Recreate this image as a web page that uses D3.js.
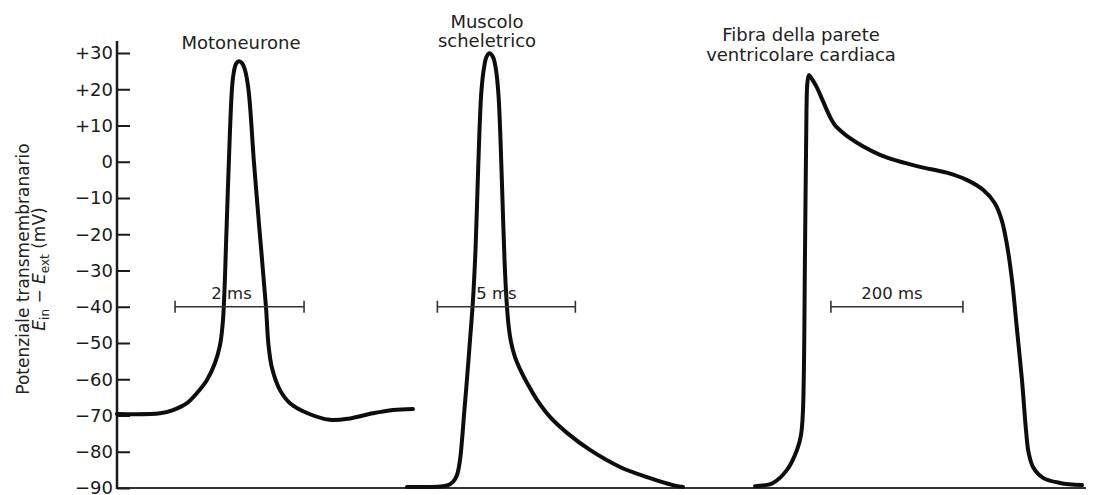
<!DOCTYPE html>
<html>
<head>
<meta charset="utf-8">
<script src="https://cdn.jsdelivr.net/npm/d3@7"></script>
<style>
  html, body { margin: 0; padding: 0; background: #fff; }
  svg { display: block; font-family: "DejaVu Sans", sans-serif; }
</style>
</head>
<body>
<svg id="chart" width="1093" height="495"></svg>
<script>
// Transmembrane potential axis (mV)
const yTicks = [30, 20, 10, 0, -10, -20, -30, -40, -50, -60, -70, -80, -90];
const yTickLabels = ["+30", "+20", "+10", "0", "\u221210", "\u221220", "\u221230", "\u221240",
                     "\u221250", "\u221260", "\u221270", "\u221280", "\u221290"];

// Motoneurone action potential: time (ms) and potential (mV)
const motoTime = [0, 0.667, 0.868, 1.085, 1.240, 1.395, 1.519, 1.597, 1.643, 1.698, 1.752, 1.798,
                  1.845, 1.891, 1.938, 1.984, 2.039, 2.124, 2.209, 2.310, 2.349, 2.403, 2.527,
                  2.682, 2.946, 3.302, 3.612, 3.969, 4.279, 4.589];
const motoVolt = [-69.6, -69.4, -68.5, -66.6, -63.8, -60.2, -55.5, -50.6, -43.7, -18.8, 8.8, 23.1,
                  27.0, 27.7, 27.2, 25.3, 19.8, -0.3, -18.8, -40.1, -50.6, -56.9, -63.0,
                  -66.6, -69.3, -71.2, -70.8, -69.4, -68.5, -68.2];

// Skeletal muscle action potential
const muscleTime = [0, 1.449, 1.667, 1.812, 1.920, 1.993, 2.065, 2.156, 2.283, 2.391, 2.482, 2.554,
                    2.627, 2.699, 2.790, 2.880, 2.989, 3.116, 3.225, 3.315, 3.388, 3.460, 3.533,
                    3.605, 3.678, 3.768, 3.913, 4.094, 4.348, 4.710, 5.181, 5.797, 6.630, 7.717,
                    8.696, 9.638, 10.0];
const muscleVolt = [-89.7, -89.3, -88.3, -86.4, -82.3, -76.8, -69.9, -61.6, -49.2, -38.1, -24.3, -7.8,
                    8.8, 19.8, 25.9, 28.9, 29.9, 28.9, 25.3, 18.4, 6.0, -10.6, -27.1,
                    -38.1, -45.0, -49.7, -53.9, -57.2, -61.0, -65.7, -70.4, -74.8, -79.5, -84.2,
                    -87.0, -89.2, -89.7];

// Ventricular cardiac fibre action potential
const cardiacTime = [0, 7.6, 27.3, 48.5, 63.6, 69.7, 72.7, 75.8, 78.0, 79.5, 81.8, 86.4, 93.5, 103.5,
                     113.6, 121.2, 131.4, 143.9, 164.1, 189.4, 214.7, 250, 290.5, 320.8, 345.9,
                     363.6, 373.8, 381.4, 389.4, 397, 404.5, 410.6, 414.4, 421.2, 436.4, 462.1, 495.5];
const cardiacVolt = [-89.5, -89.4, -88.6, -85, -79.5, -75.4, -68.5, -24.3, 14.3, 22.0, 23.9, 22.8, 20.6, 16.5,
                     12.4, 10.1, 8.3, 6.5, 4.2, 1.9, 0.3, -1.4, -3.0, -5.0, -7.8,
                     -11.5, -16.1, -22.5, -32.6, -46.4, -60.2, -74, -80.1, -84.2, -87.2, -88.6, -89.2];

// Panel titles (one entry per trace, one string per line)
const panelTitles = [["Motoneurone"], ["Muscolo", "scheletrico"], ["Fibra della parete", "ventricolare cardiaca"]];

// Time calibration bars (ms) and their labels
const barStart = [0.9, 1.1, 115];
const barEnd = [2.9, 6.1, 315];
const barLabels = ["2 ms", "5 ms", "200 ms"];
const barLevel = -40;

const svg = d3.select("#chart");
const ink = "#1a1a1a";

const y = d3.scaleLinear().domain([30, -90]).range([53, 488]);
const axisX = 117;

// Each trace has its own time base
const panels = [
  { time: motoTime,    volt: motoVolt,    x: d3.scaleLinear().domain([0, 4.6]).range([117, 413.7]),
    titleX: 241, titleY: 49, lineGap: 18.5, labelShift: -8 },
  { time: muscleTime,  volt: muscleVolt,  x: d3.scaleLinear().domain([0, 10]).range([407, 683]),
    titleX: 487, titleY: 28, lineGap: 18.5, labelShift: -10 },
  { time: cardiacTime, volt: cardiacVolt, x: d3.scaleLinear().domain([0, 500]).range([755, 1085]),
    titleX: 801, titleY: 41, lineGap: 20, labelShift: -5 }
];

// Baseline along the bottom
svg.append("line")
  .attr("x1", axisX).attr("x2", 1086)
  .attr("y1", y(-90)).attr("y2", y(-90))
  .attr("stroke", "#333").attr("stroke-width", 2);

// Vertical potential axis, ticks pointing into the plot
const yAxis = d3.axisLeft(y)
  .tickValues(yTicks)
  .tickFormat((d, i) => yTickLabels[i])
  .tickSizeInner(-13)
  .tickSizeOuter(0)
  .tickPadding(4);

const gy = svg.append("g")
  .attr("transform", `translate(${axisX},0)`)
  .call(yAxis);
gy.select(".domain").remove();
gy.append("line")
  .attr("x1", 0).attr("x2", 0)
  .attr("y1", 41).attr("y2", y(-90) + 1)
  .attr("stroke", ink).attr("stroke-width", 2.5);
gy.selectAll(".tick line").attr("stroke", ink).attr("stroke-width", 2);
gy.selectAll(".tick text")
  .attr("fill", ink)
  .style("font-family", "'DejaVu Sans', sans-serif")
  .style("font-size", "18px");

// Axis title
const yTitle = svg.append("g")
  .attr("transform", `translate(0,269) rotate(-90)`)
  .attr("text-anchor", "middle")
  .attr("fill", "#222")
  .style("font-size", "17px");
yTitle.append("text").attr("x", 0).attr("y", 29).text("Potenziale transmembranario");
const eLine = yTitle.append("text").attr("x", 0).attr("y", 45);
eLine.append("tspan").style("font-style", "italic").text("E");
eLine.append("tspan").attr("dy", 4).style("font-size", "12px").text("in");
eLine.append("tspan").attr("dy", -4).text(" \u2212 ");
eLine.append("tspan").style("font-style", "italic").text("E");
eLine.append("tspan").attr("dy", 4).style("font-size", "12px").text("ext");
eLine.append("tspan").attr("dy", -4).text(" (mV)");

// Centripetal Catmull-Rom keeps the traces smooth through steep rises
const line = d3.line().curve(d3.curveCatmullRom.alpha(0.5));

panels.forEach((p, k) => {
  const pts = p.time.map((t, i) => [p.x(t), y(p.volt[i])]);

  svg.append("path")
    .attr("d", line(pts))
    .attr("fill", "none")
    .attr("stroke", "#0d0d0d")
    .attr("stroke-width", 4)
    .attr("stroke-linejoin", "round")
    .attr("stroke-linecap", "round");

  // Time calibration bar
  const bx0 = p.x(barStart[k]), bx1 = p.x(barEnd[k]), by = y(barLevel);
  const bar = svg.append("g").attr("stroke", "#333").attr("stroke-width", 1.6);
  bar.append("line").attr("x1", bx0).attr("x2", bx1).attr("y1", by).attr("y2", by);
  bar.append("line").attr("x1", bx0).attr("x2", bx0).attr("y1", by - 6).attr("y2", by + 6);
  bar.append("line").attr("x1", bx1).attr("x2", bx1).attr("y1", by - 6).attr("y2", by + 6);
  svg.append("text")
    .attr("x", (bx0 + bx1) / 2 + p.labelShift)
    .attr("y", by - 8)
    .attr("text-anchor", "middle")
    .attr("fill", "#222")
    .style("font-size", "16.5px")
    .text(barLabels[k]);

  // Panel title
  const title = svg.append("text")
    .attr("text-anchor", "middle")
    .attr("fill", "#222")
    .style("font-size", "18px");
  panelTitles[k].forEach((s, j) => {
    title.append("tspan")
      .attr("x", p.titleX)
      .attr("y", p.titleY + j * p.lineGap)
      .text(s);
  });
});
</script>
</body>
</html>
